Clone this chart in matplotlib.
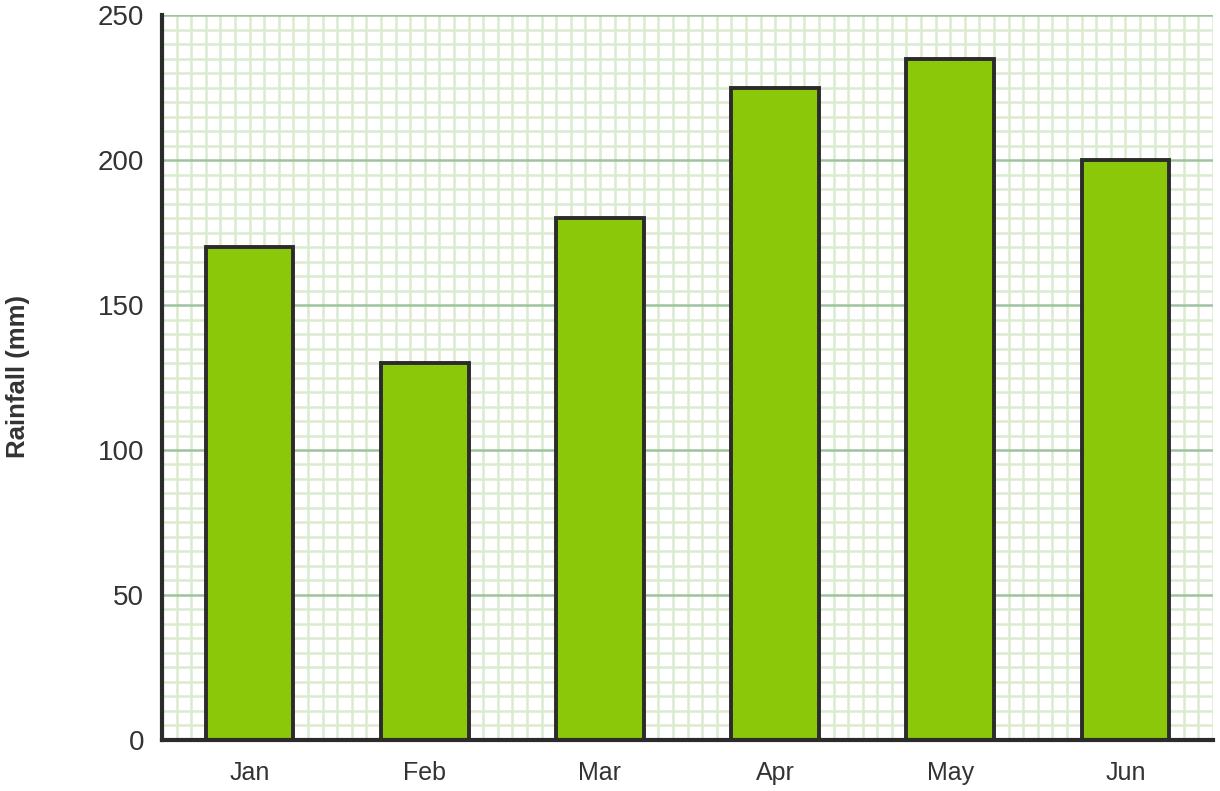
import numpy as np
import matplotlib.pyplot as plt
from matplotlib.ticker import MultipleLocator

plt.rcParams['font.family'] = ['Liberation Sans', 'DejaVu Sans']

# Data
months = ['Jan', 'Feb', 'Mar', 'Apr', 'May', 'Jun']
rainfall = [170, 130, 180, 225, 235, 200]

fig = plt.figure(figsize=(12.2, 7.91), dpi=100)
ax = fig.add_axes([0.1328, 0.0645, 0.8615, 0.9165])

x = np.arange(len(months))
ax.bar(x, rainfall, width=0.5, color='#8cc80a', edgecolor='#2b2b2b',
       linewidth=2.8, zorder=3)

ax.set_xlim(-0.5, len(months) - 0.5)
ax.set_ylim(0, 250)

# Grid: fine graph-paper minor lines and darker major horizontals
ax.yaxis.set_major_locator(MultipleLocator(50))
ax.yaxis.set_minor_locator(MultipleLocator(5))
ax.xaxis.set_minor_locator(MultipleLocator(1 / 12))
ax.set_xticks(x)
ax.set_xticklabels(months)

ax.grid(which='minor', axis='both', color='#dbebcf', linewidth=1.8, zorder=0)
ax.grid(which='major', axis='y', color='#9dc49d', linewidth=1.8, zorder=1)
ax.grid(which='major', axis='x', color='#dbebcf', linewidth=1.8, zorder=0)
ax.set_axisbelow(True)

for side in ['top', 'right']:
    ax.spines[side].set_visible(False)
for side in ['left', 'bottom']:
    ax.spines[side].set_color('#2b2b2b')
    ax.spines[side].set_linewidth(3)
    ax.spines[side].set_zorder(4)

ax.tick_params(which='both', length=0)
ax.tick_params(axis='y', labelsize=20, colors='#333333', pad=13)
ax.tick_params(axis='x', labelsize=18, colors='#333333', pad=15)

# y-axis title placed in figure coordinates
fig.text(18 / 1220, 1 - 377 / 791, 'Rainfall (mm)', rotation=90,
         ha='center', va='center', fontsize=18.5, fontweight='bold',
         color='#333333')

fig.savefig('out.png', dpi=100)
